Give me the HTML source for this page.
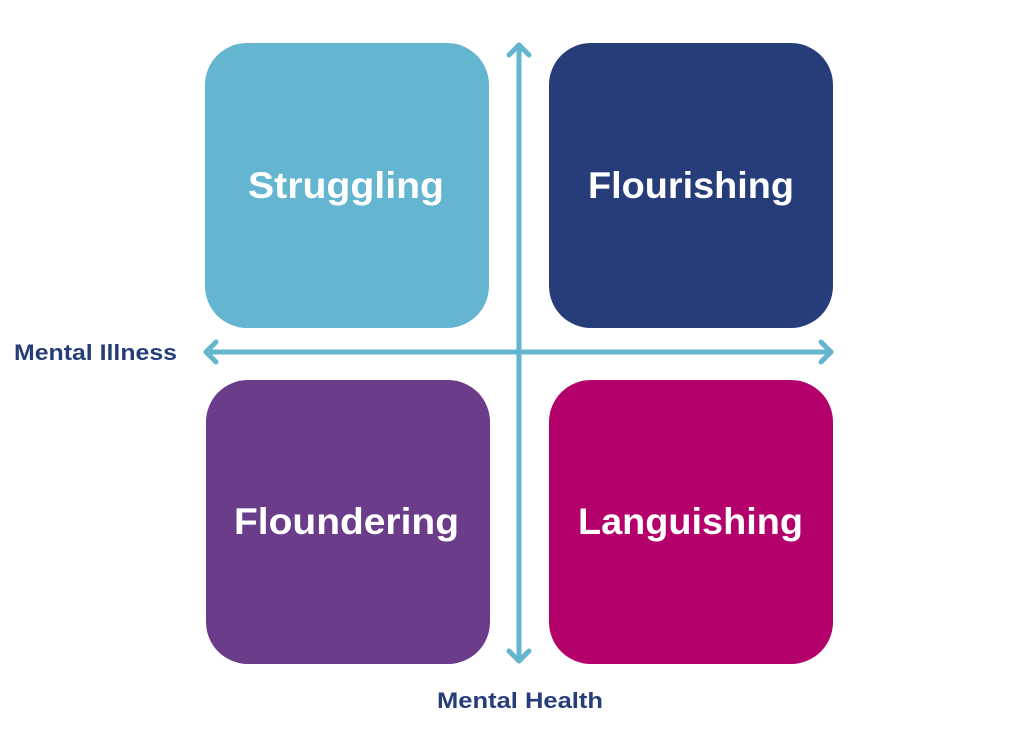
<!DOCTYPE html>
<html><head><style>
body{margin:0;width:1024px;height:742px;background:#fff;overflow:hidden;font-family:"Liberation Sans",sans-serif}
svg{position:absolute;left:0;top:0}
</style></head><body>
<svg width="1024" height="742" viewBox="0 0 1024 742">
<rect x="205" y="43" width="284" height="285" rx="42" fill="#64b5cf"/>
<rect x="549" y="43" width="284" height="285" rx="42" fill="#263d7a"/>
<rect x="206" y="380" width="284" height="284" rx="42" fill="#6a3c8a"/>
<rect x="549" y="380" width="284" height="284" rx="42" fill="#b4006a"/>
<g fill="#fff" font-weight="bold" font-size="37" font-family="Liberation Sans, sans-serif" lengthAdjust="spacingAndGlyphs">
<text x="248" y="198" textLength="196" lengthAdjust="spacingAndGlyphs">Struggling</text>
<text x="588" y="198" textLength="206" lengthAdjust="spacingAndGlyphs">Flourishing</text>
<text x="234" y="534" textLength="225" lengthAdjust="spacingAndGlyphs">Floundering</text>
<text x="578" y="534" textLength="225" lengthAdjust="spacingAndGlyphs">Languishing</text>
</g>
<g stroke="#64b5cf" stroke-width="5" stroke-linecap="round" stroke-linejoin="round" fill="none">
<line x1="519" y1="45" x2="519" y2="661"/>
<polyline points="509,55 519,45 529,55"/>
<polyline points="509,651 519,661 529,651"/>
<line x1="206" y1="352" x2="831" y2="352"/>
<polyline points="216,342 206,352 216,362"/>
<polyline points="821,342 831,352 821,362"/>
</g>
<g fill="#263d7a" font-weight="bold" font-size="22" font-family="Liberation Sans, sans-serif">
<text x="14" y="360" textLength="163" lengthAdjust="spacingAndGlyphs">Mental Illness</text>
<text x="437" y="708" textLength="166" lengthAdjust="spacingAndGlyphs">Mental Health</text>
</g>
</svg>
</body></html>
